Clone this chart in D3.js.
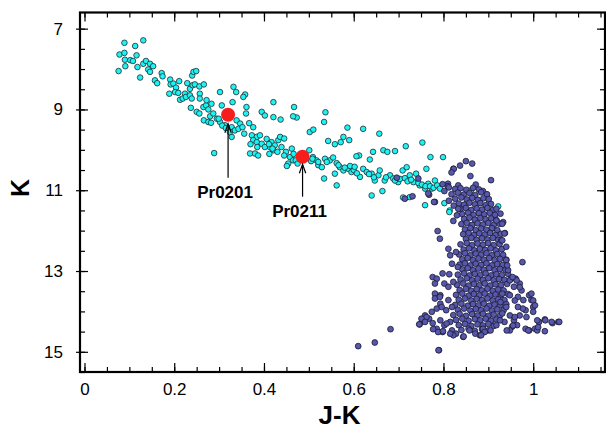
<!DOCTYPE html>
<html><head><meta charset="utf-8">
<script src="https://cdn.jsdelivr.net/npm/d3@7"></script>
<style>
html,body{margin:0;padding:0;background:#fff;}
svg{display:block;font-family:"Liberation Sans",Arial,Helvetica,sans-serif;}
</style></head>
<body><svg id="c" width="606" height="431"></svg>
<script>
// ---------- data (J-K, K) ----------
const xTickLabels = [0, 0.2, 0.4, 0.6, 0.8, 1];
const yTickLabels = [7, 9, 11, 13, 15];
const xTitle = "J-K";
const yTitle = "K";

const cyanStars = [
[0.089,7.35],[0.113,7.43],[0.131,7.29],[0.078,7.64],[0.089,7.60],[0.116,7.66],[0.090,7.77],[0.102,7.78],[0.108,7.80],[0.091,7.93],
[0.118,7.95],[0.131,7.87],[0.137,7.80],[0.146,7.87],[0.153,7.93],[0.142,8.01],[0.146,8.07],[0.076,8.05],[0.124,8.21],[0.172,8.10],
[0.174,8.18],[0.157,8.28],[0.162,8.35],[0.191,8.26],[0.192,8.38],[0.189,8.61],[0.198,8.36],[0.204,8.46],[0.211,8.30],[0.202,8.57],
[0.209,8.59],[0.213,8.76],[0.219,8.73],[0.229,8.35],[0.235,8.49],[0.240,8.16],[0.243,8.07],[0.249,8.05],[0.241,8.40],[0.246,8.38],
[0.256,8.43],[0.266,8.38],[0.224,8.61],[0.226,8.69],[0.235,8.65],[0.239,8.73],[0.257,8.61],[0.257,8.73],[0.237,8.96],[0.250,9.06],
[0.256,9.10],[0.265,8.94],[0.271,8.90],[0.276,9.00],[0.272,8.77],[0.266,9.27],[0.276,9.31],[0.280,9.17],
[0.302,8.57],[0.332,8.44],[0.338,8.57],[0.358,8.63],[0.354,8.69],[0.283,8.86],[0.287,9.10],[0.295,9.23],[0.302,9.31],[0.306,8.90],
[0.330,8.82],[0.361,8.94],[0.360,9.10],[0.339,9.27],[0.347,9.35],[0.328,9.44],[0.313,9.39],[0.335,9.52],[0.328,9.68],[0.343,9.48],
[0.352,9.44],[0.356,9.60],[0.395,9.06],[0.402,9.15],[0.421,8.82],[0.421,9.19],[0.437,9.25],[0.467,8.94],[0.473,9.20],[0.465,9.17],
[0.376,9.44],[0.373,9.64],[0.384,9.68],[0.391,9.64],[0.376,9.76],[0.384,9.81],[0.395,9.85],[0.406,9.73],[0.417,9.81],[0.413,9.93],
[0.424,9.89],[0.432,9.76],[0.421,10.01],[0.430,10.05],[0.369,10.09],[0.380,10.09],[0.387,10.14],[0.402,9.93],[0.439,9.93],[0.289,10.08],
[0.449,10.05],[0.458,10.18],[0.465,10.26],[0.454,10.34],[0.502,9.56],[0.510,9.50],[0.517,10.26],[0.521,10.38],
[0.445,10.14],[0.462,9.97],[0.466,10.10],[0.451,10.40],[0.471,10.26],[0.475,10.34],[0.501,10.01],[0.509,10.18],[0.505,10.28],
[0.307,9.40],[0.315,9.46],[0.324,9.56],[0.299,9.23],[0.282,9.33],[0.367,9.34],[0.370,9.86],[0.385,9.93],
[0.411,9.86],[0.419,9.97],[0.412,10.10],[0.436,9.68],[0.445,9.72],[0.537,9.07],
[0.534,9.31],[0.586,9.45],[0.621,9.48],[0.657,9.60],[0.543,9.78],[0.558,9.86],[0.577,9.68],[0.571,9.81],[0.590,9.76],[0.643,10.05],
[0.666,10.01],[0.675,10.05],[0.692,10.03],[0.716,9.91],[0.753,9.82],[0.799,10.18],[0.771,10.18],[0.612,10.14],[0.606,10.16],[0.636,10.24],
[0.508,10.22],[0.521,10.30],[0.536,10.22],[0.547,10.26],[0.554,10.19],[0.562,10.33],[0.529,10.43],[0.534,10.71],[0.562,10.88],[0.558,10.59],
[0.569,10.43],[0.577,10.51],[0.588,10.47],[0.595,10.55],[0.614,10.67],[0.621,10.47],[0.629,10.55],[0.640,10.59],[0.647,10.76],[0.655,10.63],
[0.658,10.51],[0.640,11.13],[0.664,11.02],[0.669,10.76],[0.681,10.63],[0.688,10.71],[0.699,10.80],[0.709,10.51],[0.718,10.43],[0.725,10.63],
[0.733,10.80],[0.739,10.59],[0.747,10.88],[0.759,10.96],[0.766,10.84],[0.774,10.96],[0.781,10.76],[0.710,11.18],[0.725,11.17],[0.759,11.37],
[0.814,11.50],[0.762,10.47],
[0.600,10.50],[0.607,10.58],[0.634,10.60],[0.645,10.68],[0.672,10.68],[0.692,10.76],[0.703,10.72],[0.714,10.70],[0.720,10.78],[0.728,10.74],
[0.744,10.82],[0.752,10.86],[0.760,10.90],[0.770,10.90],[0.778,10.94],[0.786,10.88],[0.792,10.96],[0.540,10.30],[0.566,10.38],[0.580,10.44],
[0.592,10.40],[0.602,10.42],
[0.862,11.00],[0.901,11.32],[0.922,11.40],[0.883,11.60],[0.909,11.95],[0.802,11.32],[0.813,11.54]
];

const blueStars = [
// branch-embedded and upper giant branch
[0.696,10.69],[0.744,10.71],[0.714,11.21],[0.731,11.15],[0.768,11.11],[0.781,11.29],[0.822,10.47],[0.810,10.84],
[0.850,10.28],[0.864,10.34],[0.837,10.39],[0.823,10.47],[0.818,10.56],[0.860,10.65],[0.906,10.75],[0.798,10.85],[0.810,10.90],[0.833,10.88],
[0.872,10.86],[0.888,11.02],[0.802,11.02],[0.766,11.08],[0.779,11.29],
// dense giant branch
[0.812,10.93],[0.826,10.97],[0.838,10.95],[0.851,10.99],[0.866,10.94],[0.879,10.98],
[0.818,11.10],[0.832,11.06],[0.845,11.11],[0.858,11.07],[0.871,11.12],[0.884,11.05],[0.897,11.10],
[0.826,11.21],[0.840,11.18],[0.852,11.23],[0.864,11.19],[0.877,11.24],[0.889,11.20],[0.901,11.22],[0.812,11.26],
[0.834,11.33],[0.846,11.36],[0.858,11.31],[0.870,11.35],[0.882,11.32],[0.894,11.37],[0.906,11.34],[0.823,11.38],
[0.838,11.47],[0.850,11.44],[0.862,11.49],[0.874,11.45],[0.886,11.48],[0.898,11.44],[0.910,11.49],
[0.842,11.59],[0.855,11.56],[0.867,11.61],[0.879,11.57],[0.891,11.60],[0.903,11.56],[0.915,11.61],[0.830,11.62],
[0.846,11.71],[0.858,11.68],[0.870,11.73],[0.882,11.69],[0.894,11.72],[0.906,11.70],[0.918,11.74],
[0.840,11.84],[0.852,11.81],[0.864,11.86],[0.876,11.82],[0.888,11.85],[0.900,11.81],[0.912,11.86],[0.925,11.83],
[0.848,11.97],[0.860,11.94],[0.872,11.99],[0.884,11.95],[0.896,11.98],[0.908,11.94],[0.920,11.99],
[0.844,12.09],[0.856,12.06],[0.868,12.11],[0.880,12.07],[0.892,12.10],[0.904,12.06],[0.916,12.11],[0.928,12.08],
[0.850,12.21],[0.862,12.18],[0.874,12.23],[0.886,12.19],[0.898,12.22],[0.910,12.18],[0.922,12.23],
[0.838,12.34],[0.852,12.31],[0.864,12.36],[0.876,12.32],[0.888,12.35],[0.900,12.31],[0.912,12.36],[0.925,12.33],
[0.845,12.47],[0.857,12.44],[0.869,12.49],[0.881,12.45],[0.893,12.48],[0.905,12.44],[0.917,12.49],[0.930,12.46],
[0.835,12.59],[0.848,12.56],[0.860,12.61],[0.872,12.57],[0.884,12.60],[0.896,12.56],[0.908,12.61],[0.920,12.58],[0.933,12.60],
[0.842,12.71],[0.854,12.68],[0.866,12.73],[0.878,12.69],[0.890,12.72],[0.902,12.68],[0.914,12.73],[0.926,12.70],[0.940,12.72],
[0.836,12.84],[0.848,12.81],[0.860,12.86],[0.872,12.82],[0.884,12.85],[0.896,12.81],[0.908,12.86],[0.920,12.83],[0.932,12.85],
[0.842,12.96],[0.854,12.93],[0.866,12.98],[0.878,12.94],[0.890,12.97],[0.902,12.93],[0.914,12.98],[0.926,12.95],[0.938,12.97],
[0.832,13.09],[0.846,13.06],[0.858,13.11],[0.870,13.07],[0.882,13.10],[0.894,13.06],[0.906,13.11],[0.918,13.08],[0.930,13.10],[0.944,13.07],
[0.838,13.21],[0.852,13.18],[0.864,13.23],[0.876,13.19],[0.888,13.22],[0.900,13.18],[0.912,13.23],[0.924,13.20],[0.936,13.22],[0.950,13.19],
[0.830,13.34],[0.844,13.31],[0.856,13.36],[0.868,13.32],[0.880,13.35],[0.892,13.31],[0.904,13.36],[0.916,13.33],[0.928,13.35],[0.942,13.32],
[0.836,13.47],[0.850,13.44],[0.862,13.49],[0.874,13.45],[0.886,13.48],[0.898,13.44],[0.910,13.49],[0.922,13.46],[0.934,13.48],
[0.828,13.59],[0.842,13.56],[0.856,13.61],[0.868,13.57],[0.880,13.60],[0.892,13.56],[0.904,13.61],[0.916,13.58],[0.928,13.60],[0.944,13.57],
[0.834,13.71],[0.848,13.68],[0.862,13.73],[0.874,13.69],[0.886,13.72],[0.898,13.68],[0.910,13.73],[0.922,13.70],[0.936,13.72],
[0.826,13.84],[0.840,13.81],[0.854,13.86],[0.866,13.82],[0.878,13.85],[0.890,13.81],[0.902,13.86],[0.914,13.83],[0.926,13.85],[0.940,13.82],
[0.832,13.96],[0.846,13.93],[0.860,13.98],[0.872,13.94],[0.884,13.97],[0.896,13.93],[0.908,13.98],[0.920,13.95],[0.934,13.97],
[0.822,14.09],[0.836,14.06],[0.850,14.11],[0.864,14.07],[0.876,14.10],[0.888,14.06],[0.900,14.11],[0.912,14.08],[0.926,14.10],
[0.828,14.21],[0.842,14.18],[0.856,14.23],[0.870,14.19],[0.882,14.22],[0.894,14.18],[0.906,14.23],[0.918,14.20],
[0.834,14.34],[0.848,14.31],[0.862,14.36],[0.876,14.32],[0.888,14.35],[0.900,14.31],[0.912,14.36],
[0.840,14.46],[0.856,14.43],[0.870,14.48],[0.886,14.44],[0.900,14.47],
// outliers around the branch
[0.787,12.01],[0.792,12.20],[0.976,12.78],[0.933,11.79],[0.918,11.75],[0.937,12.06],[0.929,12.24],[0.822,11.76],[0.833,11.46],[0.927,11.58],
[0.918,11.46],[0.931,11.83],[0.931,12.24],[0.940,12.40],[0.940,12.73],[0.936,12.07],
[0.811,12.45],[0.815,12.61],[0.828,12.53],[0.819,12.82],[0.832,12.90],[0.776,13.15],[0.785,13.19],[0.781,13.31],[0.798,13.06],[0.802,13.31],
[0.811,13.39],[0.781,13.56],[0.793,13.60],[0.811,13.72],[0.793,13.81],[0.785,13.93],[0.806,13.97],[0.819,13.89],[0.759,14.10],[0.768,14.18],
[0.755,14.22],[0.776,14.29],[0.793,14.22],[0.802,14.34],[0.815,14.26],[0.785,14.43],[0.798,14.51],[0.819,14.47],[0.828,14.55],[0.858,14.47],
[0.871,14.55],[0.888,14.43],[0.905,14.47],[0.918,14.34],
[0.813,13.08],[0.822,13.27],[0.781,13.68],[0.792,13.64],[0.796,13.89],[0.774,14.01],[0.762,14.14],[0.751,14.18],[0.747,14.32],[0.759,14.26],
[0.777,14.44],[0.788,14.51],[0.799,14.49],[0.807,14.30],[0.822,14.59],[0.844,14.63],[0.881,14.59],[0.892,14.51],[0.790,14.96],
[0.931,13.56],[0.948,13.23],[0.961,13.19],[0.970,13.31],[0.957,13.39],[0.974,13.48],[0.966,13.64],[0.978,13.72],[0.991,13.60],[0.996,13.72],
[1.000,13.89],[0.983,13.97],[0.970,14.10],[0.957,14.22],[0.953,14.38],[0.964,14.34],[0.983,14.43],[0.991,14.47],[1.004,14.43],[1.013,14.26],
[1.026,14.20],[1.043,14.29],[1.056,14.26],[1.026,14.49],[1.009,14.47],[0.948,14.47],[0.936,14.26],[0.931,14.05],[0.940,13.89],[0.927,13.77],
[0.948,14.10],[0.959,14.14],[0.955,14.35],[0.941,14.47],[0.977,13.93],[0.985,14.14],[0.989,14.47],[0.996,13.56],[1.000,13.73],[1.004,13.85],
[1.000,14.01],[1.009,14.22],[1.011,14.39],[1.027,14.22],[1.041,14.26],[1.058,14.26],[0.970,13.40],[0.963,13.23],[0.954,13.15],
[0.944,12.98],[0.942,12.86],[0.948,13.60],[0.959,13.73],[0.966,13.89],[0.926,14.22],
[0.610,14.86],[0.647,14.77],[0.682,14.44],[0.789,14.96],[0.746,14.32],[0.845,14.62],[0.884,14.59],[0.815,14.55]
];

const targetNames = ["Pr0201", "Pr0211"];
const targetJK = [0.320, 0.486];
const targetK = [9.13, 10.17];

// ---------- layout / style ----------
const W = 606, H = 431;
const plot = {left: 80, right: 605, top: 12.5, bottom: 372};
const fontFam = '"Liberation Sans", Arial, Helvetica, sans-serif';
const annStyle = {
  "Pr0201": {tipGap: 9, arrowLen: 63, labelDy: 83, labelDx: -3},
  "Pr0211": {tipGap: 7.5, arrowLen: 40, labelDy: 60, labelDx: -3}
};

const svg = d3.select("#c");
const x = d3.scaleLinear().domain([-0.01, 1.16]).range([plot.left, plot.right]);
const y = d3.scaleLinear().domain([6.6, 15.5]).range([plot.top, plot.bottom]);

const xMinor = d3.range(0, 1.151, 0.05).map(v => +v.toFixed(2));
const yMinor = d3.range(7, 15.51, 0.5).map(v => +v.toFixed(1));

// points
const gPts = svg.append("g");
gPts.selectAll("circle.cy").data(cyanStars).join("circle")
  .attr("class","cy").attr("cx", d => x(d[0])).attr("cy", d => y(d[1])).attr("r", 2.8)
  .attr("fill", "#1CF4F4").attr("stroke", "#202a30").attr("stroke-width", 0.8);
gPts.selectAll("circle.bl").data(blueStars).join("circle")
  .attr("class","bl").attr("cx", d => x(d[0])).attr("cy", d => y(d[1])).attr("r", 2.9)
  .attr("fill", "#5757AC").attr("stroke", "#1a1a33").attr("stroke-width", 0.8);

const targets = targetNames.map((n,i) => ({name:n, jk:targetJK[i], k:targetK[i]}));
gPts.selectAll("circle.tg").data(targets).join("circle")
  .attr("class","tg").attr("cx", d => x(d.jk)).attr("cy", d => y(d.k)).attr("r", 7)
  .attr("fill", "#F51D1D");

// annotations
const gAnn = svg.append("g");
targets.forEach(d => {
  const s = annStyle[d.name];
  const cx = x(d.jk), cy = y(d.k);
  const tip = cy + s.tipGap;
  gAnn.append("line").attr("x1", cx).attr("x2", cx).attr("y1", cy + s.arrowLen).attr("y2", tip + 1)
    .attr("stroke", "#000").attr("stroke-width", 1.2);
  gAnn.append("path").attr("d", `M${cx-3.2},${tip+9}L${cx},${tip}L${cx+3.2},${tip+9}`)
    .attr("fill", "none").attr("stroke", "#000").attr("stroke-width", 1.2);
  gAnn.append("text").attr("x", cx + s.labelDx).attr("y", cy + s.labelDy)
    .attr("text-anchor", "middle").attr("font-size", 17).attr("font-weight", "bold")
    .attr("font-family", fontFam).text(d.name);
});

// axes
function styleAxis(g){ g.select(".domain").remove(); g.selectAll("line").attr("stroke","#000").attr("stroke-width",1.2);
  g.selectAll("text").attr("font-family", fontFam).attr("font-size", 17).attr("fill","#000"); }

// bottom
svg.append("g").attr("transform", `translate(0,${plot.bottom})`)
  .call(d3.axisBottom(x).tickValues(xMinor).tickSize(-5).tickFormat("")).call(styleAxis);
svg.append("g").attr("transform", `translate(0,${plot.bottom})`)
  .call(d3.axisBottom(x).tickValues(xTickLabels).tickSizeInner(-9).tickSizeOuter(0).tickPadding(11).tickFormat(d3.format("~g"))).call(styleAxis);
// top
svg.append("g").attr("transform", `translate(0,${plot.top})`)
  .call(d3.axisTop(x).tickValues(xMinor).tickSize(-5).tickFormat("")).call(styleAxis);
svg.append("g").attr("transform", `translate(0,${plot.top})`)
  .call(d3.axisTop(x).tickValues(xTickLabels).tickSize(-9).tickFormat("")).call(styleAxis);
// left
svg.append("g").attr("transform", `translate(${plot.left},0)`)
  .call(d3.axisLeft(y).tickValues(yMinor).tickSize(-5).tickFormat("")).call(styleAxis);
svg.append("g").attr("transform", `translate(${plot.left},0)`)
  .call(d3.axisLeft(y).tickValues(yTickLabels).tickSizeInner(-8).tickSizeOuter(0).tickPadding(17).tickFormat(d3.format("d"))).call(styleAxis);
svg.append("g").attr("transform", `translate(${plot.left},0)`)
  .call(d3.axisLeft(y).tickValues(yTickLabels).tickSize(4).tickFormat("")).call(styleAxis);
// right
svg.append("g").attr("transform", `translate(${plot.right},0)`)
  .call(d3.axisRight(y).tickValues(yMinor).tickSize(-5).tickFormat("")).call(styleAxis);
svg.append("g").attr("transform", `translate(${plot.right},0)`)
  .call(d3.axisRight(y).tickValues(yTickLabels).tickSize(-8).tickFormat("")).call(styleAxis);

// frame
svg.append("rect").attr("x", plot.left).attr("y", plot.top)
  .attr("width", plot.right - plot.left).attr("height", plot.bottom - plot.top)
  .attr("fill", "none").attr("stroke", "#000").attr("stroke-width", 2.2);

// titles
svg.append("text").attr("x", (plot.left + plot.right)/2 - 3).attr("y", 424)
  .attr("text-anchor","middle").attr("font-family", fontFam).attr("font-weight","bold").attr("font-size", 26).text(xTitle);
svg.append("text").attr("transform", `translate(29,188) rotate(-90)`)
  .attr("text-anchor","middle").attr("font-family", fontFam).attr("font-weight","bold").attr("font-size", 25).text(yTitle);
</script></body></html>
